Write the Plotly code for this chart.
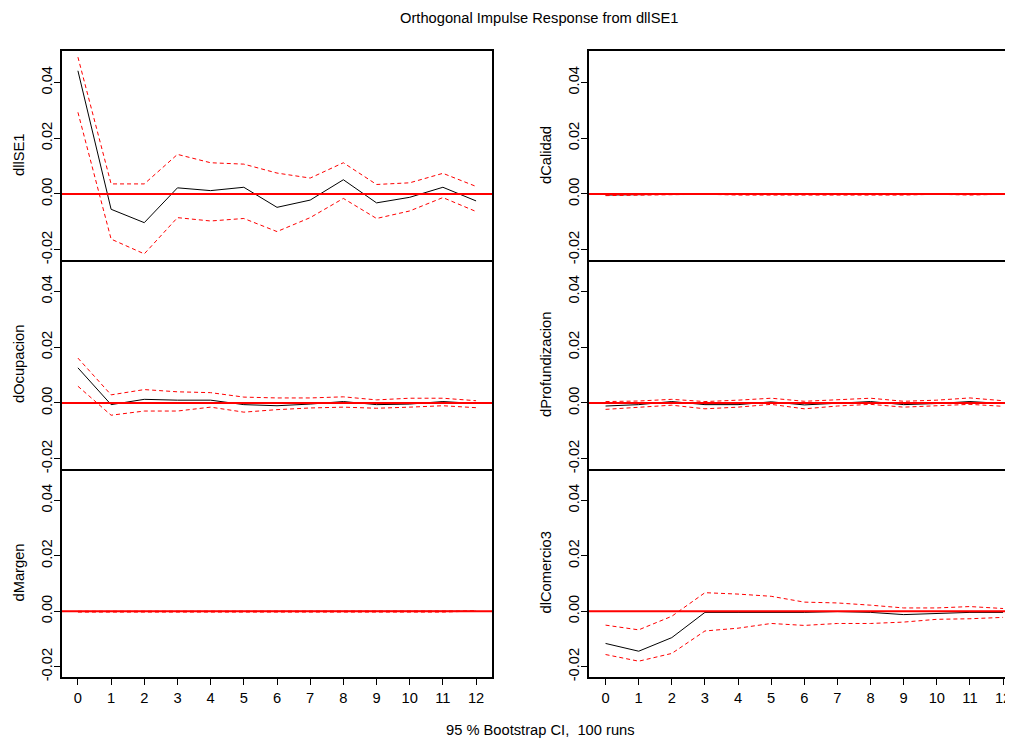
import plotly.graph_objects as go

steps = list(range(13))

panel_names = ["dllSE1", "dCalidad", "dOcupacion", "dProfundizacion", "dMargen", "dlComercio3"]

irf_dllSE1 = [0.0442, -0.0055, -0.0103, 0.0022, 0.0012, 0.0024, -0.0048, -0.0022, 0.0051, -0.0032, -0.0012, 0.0024, -0.0025]
up_dllSE1 = [0.0491, 0.0036, 0.0036, 0.0142, 0.0112, 0.0107, 0.0075, 0.0057, 0.0112, 0.0034, 0.0040, 0.0074, 0.0027]
lo_dllSE1 = [0.0293, -0.0162, -0.0215, -0.0085, -0.0097, -0.0088, -0.0135, -0.0085, -0.0016, -0.0088, -0.0061, -0.0013, -0.0063]

irf_dCalidad = [-0.0004, -0.0002, -0.0001, 0.0000, -0.0001, -0.0001, -0.0001, -0.0001, -0.0002, -0.0001, 0.0000, -0.0001, 0.0000]
up_dCalidad = [0.0000, 0.0001, 0.0001, 0.0001, 0.0000, 0.0000, 0.0000, 0.0000, 0.0000, 0.0000, 0.0001, 0.0000, 0.0001]
lo_dCalidad = [-0.0006, -0.0004, -0.0001, -0.0001, -0.0004, -0.0004, -0.0004, -0.0004, -0.0004, -0.0004, -0.0001, -0.0004, -0.0001]

irf_dOcupacion = [0.0126, -0.0006, 0.0013, 0.0010, 0.0010, -0.0006, -0.0010, -0.0004, 0.0005, -0.0006, -0.0004, 0.0005, -0.0002]
up_dOcupacion = [0.0161, 0.0029, 0.0048, 0.0040, 0.0037, 0.0021, 0.0018, 0.0018, 0.0022, 0.0011, 0.0017, 0.0017, 0.0008]
lo_dOcupacion = [0.0060, -0.0044, -0.0029, -0.0029, -0.0015, -0.0033, -0.0024, -0.0018, -0.0015, -0.0019, -0.0015, -0.0010, -0.0017]

irf_dProfundizacion = [-0.0011, -0.0006, 0.0005, -0.0006, -0.0006, 0.0004, -0.0007, -0.0002, 0.0005, -0.0006, -0.0002, 0.0005, -0.0002]
up_dProfundizacion = [0.0005, 0.0007, 0.0013, 0.0005, 0.0010, 0.0017, 0.0006, 0.0011, 0.0017, 0.0006, 0.0010, 0.0018, 0.0008]
lo_dProfundizacion = [-0.0023, -0.0015, -0.0008, -0.0021, -0.0015, -0.0005, -0.0021, -0.0011, -0.0005, -0.0015, -0.0011, -0.0005, -0.0012]

irf_dMargen = [-0.0001, -0.0001, -0.0001, -0.0001, -0.0001, -0.0001, -0.0001, -0.0001, -0.0001, -0.0001, -0.0001, -0.0001, 0.0000]
up_dMargen = [0.0000, 0.0000, 0.0000, 0.0000, 0.0000, 0.0000, 0.0000, 0.0000, 0.0000, 0.0000, 0.0000, 0.0000, 0.0001]
lo_dMargen = [-0.0003, -0.0003, -0.0003, -0.0003, -0.0003, -0.0003, -0.0003, -0.0003, -0.0003, -0.0003, -0.0003, -0.0003, 0.0001]

irf_dlComercio3 = [-0.0116, -0.0144, -0.0095, -0.0004, -0.0004, -0.0004, -0.0004, -0.0001, -0.0004, -0.0012, -0.0007, -0.0004, -0.0004]
up_dlComercio3 = [-0.0050, -0.0067, -0.0018, 0.0067, 0.0062, 0.0054, 0.0033, 0.0030, 0.0022, 0.0012, 0.0012, 0.0017, 0.0010]
lo_dlComercio3 = [-0.0156, -0.0180, -0.0152, -0.0071, -0.0061, -0.0044, -0.0051, -0.0044, -0.0044, -0.0039, -0.0029, -0.0027, -0.0022]

series = [
    (irf_dllSE1, up_dllSE1, lo_dllSE1),
    (irf_dCalidad, up_dCalidad, lo_dCalidad),
    (irf_dOcupacion, up_dOcupacion, lo_dOcupacion),
    (irf_dProfundizacion, up_dProfundizacion, lo_dProfundizacion),
    (irf_dMargen, up_dMargen, lo_dMargen),
    (irf_dlComercio3, up_dlComercio3, lo_dlComercio3),
]

y_tickvals = [-0.02, 0.0, 0.02, 0.04]
y_ticktext = ["-0.02", "0.00", "0.02", "0.04"]
x_ticktext = [str(s) for s in steps]

# the page body has an 8px margin, so the figure is sized to the remaining window
OFF = 8
W, H = 1013 - OFF, 739 - OFF
FONT = "Liberation Sans, Arial, sans-serif"
FS = 14.7


def px(v):
    return (v - OFF) / W


def py(v):
    return 1 - (v - OFF) / H


col_px = [(62, 492), (589, 1013)]
x_ranges = [[-0.48, 12.48], [-0.5, 12.3]]
row_px = [(51, 260), (260, 469), (469, 677)]
y_range = [-0.0237, 0.0513]

fig = go.Figure()
layout = dict(
    width=W, height=H,
    margin=dict(l=0, r=0, t=0, b=0, autoexpand=False),
    paper_bgcolor="white", plot_bgcolor="white",
    showlegend=False,
    font=dict(family=FONT, size=FS, color="#000000"),
)
annotations = []
shapes = []

for i, name in enumerate(panel_names):
    row, col = i // 2, i % 2
    k = i + 1
    xa = "xaxis" if k == 1 else f"xaxis{k}"
    ya = "yaxis" if k == 1 else f"yaxis{k}"
    xr = "x" if k == 1 else f"x{k}"
    yr = "y" if k == 1 else f"y{k}"
    x0p, x1p = col_px[col]
    ytop, ybot = row_px[row]
    bottom = row == 2
    layout[xa] = dict(
        domain=[px(x0p), min(1.0, px(x1p))], range=x_ranges[col], anchor=yr, automargin=False,
        showline=True, linecolor="black", linewidth=2, mirror=(row == 0),
        showgrid=False, zeroline=False,
        tickmode="array", tickvals=steps, ticktext=x_ticktext,
        ticks="outside" if bottom else "", ticklen=6, tickwidth=1, tickcolor="black",
        showticklabels=bottom, tickfont=dict(size=FS, color="#000000"),
    )
    layout[ya] = dict(
        domain=[py(ybot), py(ytop)], range=y_range, anchor=xr, automargin=False,
        showline=True, linecolor="black", linewidth=2, mirror=(col == 0),
        showgrid=False, zeroline=False,
        tickmode="array", tickvals=y_tickvals, ticktext=y_ticktext,
        ticks="outside", ticklen=6, tickwidth=1, tickcolor="black",
        tickangle=-90, ticklabelstandoff=-4, tickfont=dict(size=FS, color="#000000"),
    )
    irf, up, lo = series[i]
    fig.add_trace(go.Scatter(x=steps, y=irf, mode="lines", xaxis=xr, yaxis=yr,
                             line=dict(color="black", width=1)))
    for b in (up, lo):
        fig.add_trace(go.Scatter(x=steps, y=b, mode="lines", xaxis=xr, yaxis=yr,
                                 line=dict(color="red", width=1, dash="4px,3px")))
    shapes.append(dict(type="line", xref=f"{xr} domain", yref=yr, x0=0, x1=1, y0=0, y1=0,
                       line=dict(color="red", width=2), layer="above"))
    annotations.append(dict(text=name, xref="paper", yref=f"{yr} domain",
                            x=px(x0p - 43.5), y=0.5, xanchor="center", yanchor="middle",
                            textangle=-90, showarrow=False, font=dict(size=FS, color="#000000")))

annotations.append(dict(text="Orthogonal Impulse Response from dllSE1", xref="paper", yref="paper",
                        x=px(539), y=py(18), xanchor="center", yanchor="middle",
                        showarrow=False, font=dict(size=FS, color="#000000")))
annotations.append(dict(text="95 % Bootstrap CI,  100 runs", xref="paper", yref="paper",
                        x=px(540), y=py(730), xanchor="center", yanchor="middle",
                        showarrow=False, font=dict(size=FS, color="#000000")))

layout["annotations"] = annotations
layout["shapes"] = shapes
fig.update_layout(**layout)
fig.write_html("out.html")
